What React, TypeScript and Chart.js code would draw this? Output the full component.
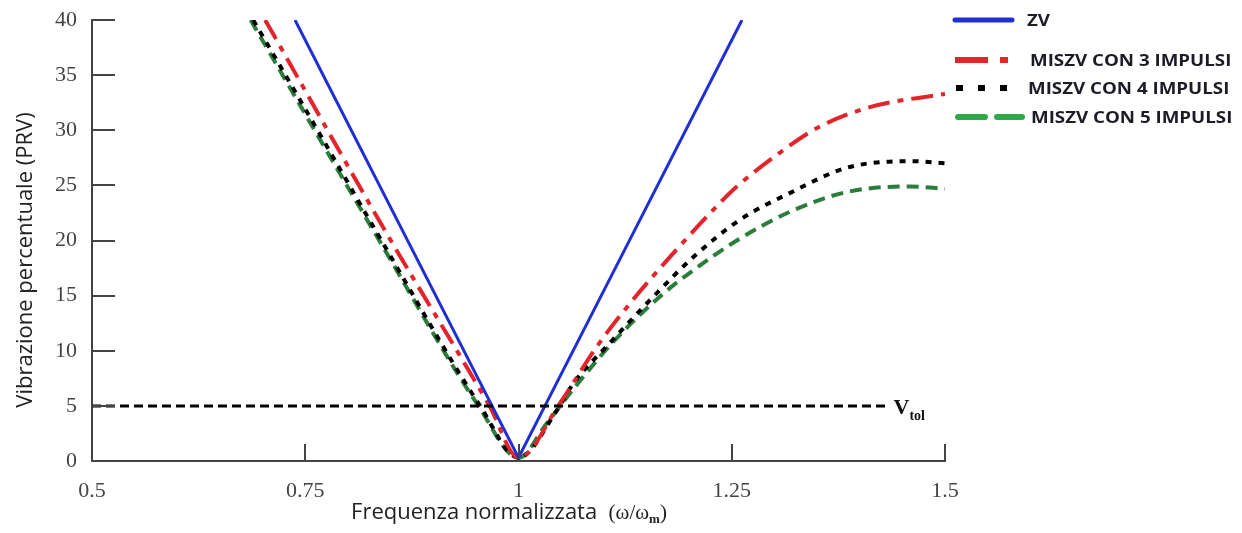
import React, { useEffect, useRef } from "react";
import { Chart, registerables } from "chart.js";

Chart.register(...registerables);

// ---- data ----
const zvX = [0.738, 0.869, 1.0, 1.131, 1.262];
const zvY = [40, 20.15, 0.3, 20.15, 40];

const m3X = [0.703, 0.845, 0.966, 1.0, 1.049, 1.092, 1.134, 1.174, 1.236, 1.256, 1.307, 1.35, 1.412, 1.5];
const m3Y = [40, 20.7, 5, 0.3, 5.3, 10.4, 14.6, 18.2, 23.4, 24.9, 28.0, 30.2, 32.1, 33.3];

const m4X = [0.689, 0.76, 0.834, 0.955, 1.0, 1.045, 1.064, 1.107, 1.158, 1.205, 1.26, 1.318, 1.385, 1.459, 1.5];
const m4Y = [40, 30.6, 20.7, 5, 0.3, 4.6, 7.0, 10.7, 14.9, 18.5, 21.9, 24.3, 26.6, 27.2, 27.0];

const m5X = [0.686, 0.758, 0.833, 0.953, 1.0, 1.033, 1.065, 1.111, 1.17, 1.205, 1.256, 1.318, 1.385, 1.459, 1.5];
const m5Y = [40, 30.4, 20.5, 5, 0.3, 3.4, 6.6, 10.8, 15.2, 17.3, 20.0, 22.6, 24.4, 24.9, 24.7];

const vtolX = [0.5, 1.435];
const vtolY = [5, 5];

const xTicks = [0.5, 0.75, 1, 1.25, 1.5];
const yTicks = [0, 5, 10, 15, 20, 25, 30, 35, 40];

const seriesLabels = ["ZV", "MISZV CON 3 IMPULSI", "MISZV CON 4 IMPULSI", "MISZV CON 5 IMPULSI"];
const xTitleMain = "Frequenza normalizzata";
const xTitleUnit = "(\u03C9/\u03C9";
const xTitleSub = "m";
const yTitle = "Vibrazione percentuale (PRV)";
const vtolLabel = "V";
const vtolSub = "tol";

const toPts = (xs: number[], ys: number[]) => xs.map((x, i) => ({ x, y: ys[i] }));

const BLUE = "#1f2fd2";
const RED = "#e3242b";
const BLACK = "#000000";
const GREEN = "#2a7d3a";
const GREEN_LEG = "#2fa84a";

const decorPlugin = {
  id: "decor",
  afterDraw(chart: any) {
    const ctx = chart.ctx as CanvasRenderingContext2D;
    const xs = chart.scales.x;
    const ys = chart.scales.y;
    const area = chart.chartArea;
    ctx.save();
    // inward tick marks
    ctx.strokeStyle = "#444";
    ctx.lineWidth = 2;
    ctx.setLineDash([]);
    yTicks.forEach((t) => {
      if (t === 0) return;
      const py = Math.round(ys.getPixelForValue(t));
      ctx.beginPath();
      ctx.moveTo(area.left, py);
      ctx.lineTo(area.left + 23, py);
      ctx.stroke();
    });
    xTicks.forEach((t) => {
      if (t === 0.5) return;
      const px = Math.round(xs.getPixelForValue(t));
      ctx.beginPath();
      ctx.moveTo(px, area.bottom);
      ctx.lineTo(px, area.bottom - 17);
      ctx.stroke();
    });

    // V_tol label
    const vx = xs.getPixelForValue(vtolX[1]) + 4;
    const vy = ys.getPixelForValue(5);
    ctx.fillStyle = "#111";
    ctx.textBaseline = "alphabetic";
    ctx.textAlign = "left";
    ctx.font = "bold 22px 'Liberation Serif'";
    ctx.fillText(vtolLabel, vx, vy + 8);
    const vw = ctx.measureText(vtolLabel).width;
    ctx.font = "bold 14px 'Liberation Serif'";
    ctx.fillText(vtolSub, vx + vw, vy + 14);

    // x axis title with subscript
    ctx.fillStyle = "#222";
    const fMain = "22px 'Open Sans'";
    const fUnit = "21px 'Liberation Serif'";
    const fSub = "bold 13px 'Liberation Serif'";
    ctx.font = fMain;
    const w1 = ctx.measureText(xTitleMain + "  ").width;
    ctx.font = fUnit;
    const w2 = ctx.measureText(xTitleUnit).width;
    ctx.font = fSub;
    const w3 = ctx.measureText(xTitleSub).width;
    ctx.font = fUnit;
    const w4 = ctx.measureText(")").width;
    const total = w1 + w2 + w3 + w4;
    let tx = 509 - total / 2;
    const ty = 519;
    ctx.font = fMain;
    ctx.fillText(xTitleMain, tx, ty);
    tx += w1;
    ctx.font = fUnit;
    ctx.fillText(xTitleUnit, tx, ty);
    tx += w2;
    ctx.font = fSub;
    ctx.fillText(xTitleSub, tx, ty + 4);
    tx += w3;
    ctx.font = fUnit;
    ctx.fillText(")", tx, ty);

    // y axis title (rotated)
    ctx.save();
    ctx.translate(26, 260);
    ctx.rotate(-Math.PI / 2);
    ctx.font = "22px 'Open Sans'";
    ctx.textAlign = "center";
    ctx.textBaseline = "middle";
    ctx.fillStyle = "#222";
    ctx.fillText(yTitle, 0, 0);
    ctx.restore();

    // legend
    const legendRows = [
      { y: 20, x0: 955, x1: 1012, color: BLUE, dash: [] as number[], cap: "round" as CanvasLineCap, tx: 1027 },
      { y: 60, x0: 955, x1: 1008, color: RED, dash: [33, 12, 8, 100], cap: "butt" as CanvasLineCap, tx: 1030 },
      { y: 88, x0: 956, x1: 1009, color: BLACK, dash: [7, 15], cap: "butt" as CanvasLineCap, tx: 1028 },
      { y: 117, x0: 958, x1: 1022, color: GREEN_LEG, dash: [27, 12], cap: "round" as CanvasLineCap, tx: 1031 },
    ];
    legendRows.forEach((r, i) => {
      ctx.strokeStyle = r.color;
      ctx.lineWidth = i === 0 ? 5 : 6;
      ctx.lineCap = r.cap;
      ctx.setLineDash(r.dash);
      ctx.beginPath();
      ctx.moveTo(r.x0, r.y);
      ctx.lineTo(r.x1, r.y);
      ctx.stroke();
      ctx.setLineDash([]);
      ctx.save();
      ctx.translate(r.tx, r.y + 1);
      ctx.scale(1.17, 1);
      ctx.fillStyle = "#1c1c28";
      ctx.font = "bold 16px 'Open Sans'";
      ctx.textAlign = "left";
      ctx.textBaseline = "middle";
      ctx.fillText(seriesLabels[i], 0, 0);
      ctx.restore();
    });
    ctx.restore();
  },
};

export default function App() {
  const ref = useRef<HTMLCanvasElement | null>(null);
  useEffect(() => {
    if (!ref.current) return;
    const chart = new Chart(ref.current, {
      type: "line",
      data: {
        datasets: [
          {
            label: "Vtol",
            data: toPts(vtolX, vtolY),
            borderColor: BLACK,
            borderWidth: 3,
            borderDash: [9, 5],
            pointRadius: 0,
            fill: false,
          },
          {
            label: seriesLabels[0],
            data: toPts(zvX, zvY),
            borderColor: BLUE,
            borderWidth: 3,
            pointRadius: 0,
            tension: 0,
            fill: false,
          },
          {
            label: seriesLabels[1],
            data: toPts(m3X, m3Y),
            borderColor: RED,
            borderWidth: 4,
            borderDash: [22, 8, 6, 8],
            pointRadius: 0,
            cubicInterpolationMode: "monotone",
            fill: false,
          },
          {
            label: seriesLabels[2],
            data: toPts(m4X, m4Y),
            borderColor: BLACK,
            borderWidth: 4,
            borderDash: [6, 7],
            pointRadius: 0,
            cubicInterpolationMode: "monotone",
            fill: false,
          },
          {
            label: seriesLabels[3],
            data: toPts(m5X, m5Y),
            borderColor: GREEN,
            borderWidth: 4,
            borderDash: [12, 7],
            pointRadius: 0,
            cubicInterpolationMode: "monotone",
            fill: false,
          },
        ],
      },
      options: {
        animation: false,
        responsive: true,
        maintainAspectRatio: false,
        layout: { padding: { left: 0, right: 297, top: 20, bottom: 0 } },
        plugins: { legend: { display: false }, tooltip: { enabled: false } },
        scales: {
          x: {
            type: "linear",
            min: 0.5,
            max: 1.5,
            afterFit: (s: any) => {
              s.height = 72;
              s.paddingLeft = 0;
              s.paddingRight = 0;
            },
            afterBuildTicks: (s: any) => {
              s.ticks = xTicks.map((v) => ({ value: v }));
            },
            ticks: {
              autoSkip: false,
              maxRotation: 0,
              padding: 17,
              color: "#444",
              font: { family: "'Liberation Serif'", size: 22 },
              callback: (v: any) => String(v),
            },
            grid: { display: true, drawOnChartArea: false, drawTicks: false },
            border: { display: true, color: "#444", width: 2 },
          },
          y: {
            type: "linear",
            min: 0,
            max: 40,
            afterFit: (s: any) => {
              s.width = 92;
              s.paddingTop = 0;
              s.paddingBottom = 0;
            },
            afterBuildTicks: (s: any) => {
              s.ticks = yTicks.map((v) => ({ value: v }));
            },
            ticks: {
              padding: 15,
              color: "#444",
              font: { family: "'Liberation Serif'", size: 22 },
              callback: (v: any) => String(v),
            },
            grid: { display: true, drawOnChartArea: false, drawTicks: false },
            border: { display: true, color: "#444", width: 2 },
          },
        },
      },
      plugins: [decorPlugin],
    });
    return () => chart.destroy();
  }, []);
  return (
    <div style={{ position: "absolute", left: 0, top: 0, width: 1242, height: 533, background: "#fff" }}>
      <canvas ref={ref} />
    </div>
  );
}
